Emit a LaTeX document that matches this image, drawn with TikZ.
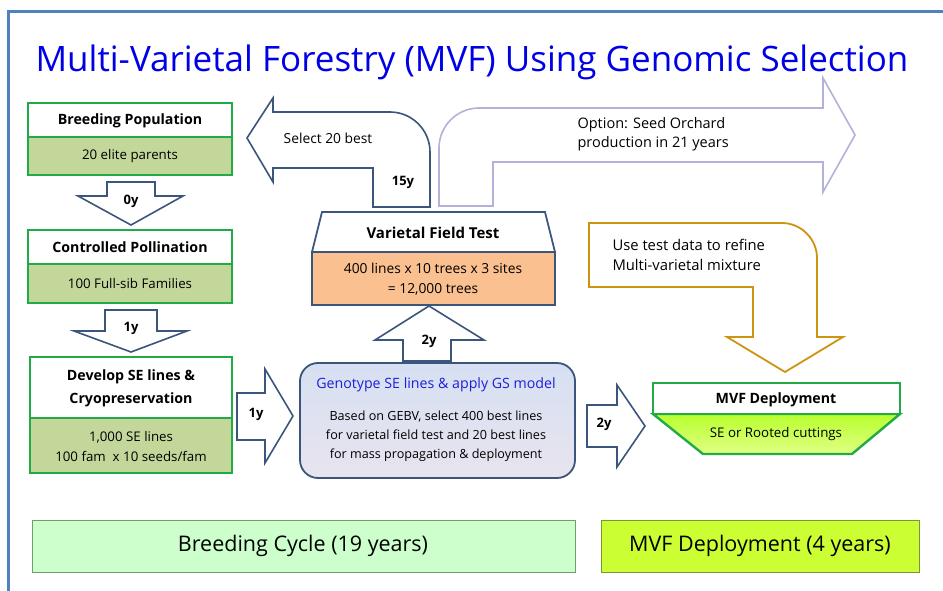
\documentclass[tikz,border=0pt]{standalone}
\usepackage{fontspec}
\setmainfont{Open Sans}
\usetikzlibrary{positioning}
\definecolor{frameblue}{RGB}{79,129,189}
\definecolor{titleblue}{RGB}{0,0,230}
\definecolor{boxgreen}{RGB}{34,170,70}
\definecolor{olivefill}{RGB}{196,215,155}
\definecolor{slate}{RGB}{60,85,125}
\definecolor{fieldorange}{RGB}{250,192,144}
\definecolor{optionline}{RGB}{178,178,218}
\definecolor{goldline}{RGB}{205,148,15}
\definecolor{limefill}{RGB}{204,255,51}
\definecolor{mintfill}{RGB}{204,255,204}
\definecolor{genotop}{RGB}{214,224,242}
\definecolor{genobot}{RGB}{232,228,238}
\definecolor{gsblue}{RGB}{30,30,220}
\begin{document}
\begin{tikzpicture}[x=1pt,y=-1pt,
  hdr/.style={font=\fontsize{14.2}{23}\selectfont\bfseries, align=center},
  txt/.style={font=\fontsize{13.3}{20}\selectfont, align=center},
  yr/.style={font=\fontsize{13}{14}\selectfont\bfseries},
  blockarrow/.style={draw=slate, line width=1.6pt, fill=white, line join=miter},
  greenbox/.style={draw=boxgreen, line width=2pt}]
\useasboundingbox[fill=white] (0,0) rectangle (943,591);
\draw[frameblue, line width=3pt] (8,591) -- (8,12) -- (943,12);
\node[font=\fontsize{35}{40}\selectfont, text=titleblue] (title) at (472,62) {Multi-Varietal Forestry (MVF) Using Genomic Selection};

% breeding population
\draw[greenbox, fill=olivefill] (28,137) rectangle (232,175);
\draw[greenbox, fill=white] (28,103) rectangle (232,137);
\node[hdr] (bp) at (130,121) {Breeding Population};
\node[txt] (bpbody) at (130,156) {20 elite parents};
\draw[blockarrow] (107,182) -- (155,182) -- (155,196) -- (183,196) -- (131,225) -- (78,196) -- (107,196) -- cycle;
\node[yr] (y0) at (131,201) {0y};

% controlled pollination
\draw[greenbox, fill=olivefill] (28,264) rectangle (232,303);
\draw[greenbox, fill=white] (28,230) rectangle (232,264);
\node[hdr] (cp) at (130,247) {Controlled Pollination};
\node[txt] (cpbody) at (130,284) {100 Full-sib Families};
\draw[blockarrow] (105,310) -- (157,310) -- (157,331) -- (187,331) -- (131,352) -- (74,331) -- (105,331) -- cycle;
\node[yr] (y1) at (131,328) {1y};

% SE lines
\draw[greenbox, fill=olivefill] (30,418) rectangle (232,473);
\draw[greenbox, fill=white] (30,357) rectangle (232,418);
\node[hdr] (se) at (131,388) {Develop SE lines \&\\Cryopreservation};
\node[txt] (sebody) at (131,447) {1,000 SE lines\\100 fam \ x 10 seeds/fam};
\draw[blockarrow] (237,393) -- (265,393) -- (265,369) -- (293,416) -- (265,463) -- (265,440) -- (237,440) -- cycle;
\node[yr] (y1b) at (256,414) {1y};

% genotyping
\draw[draw=slate, line width=1.8pt, rounded corners=18pt, top color=genotop, bottom color=genobot] (300,363) rectangle (575,478);
\node[font=\fontsize{14.2}{16}\selectfont, text=gsblue] (gs) at (436,385) {Genotype SE lines \& apply GS model};
\node[txt, font=\fontsize{12.6}{19}\selectfont] (gsbody) at (436,436) {Based on GEBV, select 400 best lines\\for varietal field test and 20 best lines\\for mass propagation \& deployment};
\draw[blockarrow] (587,405) -- (617,405) -- (617,385) -- (645,426) -- (617,467) -- (617,447) -- (587,447) -- cycle;
\node[yr] (y2b) at (604,424) {2y};
\draw[blockarrow] (403,361) -- (451,361) -- (451,340) -- (484,340) -- (429,306) -- (375,340) -- (403,340) -- cycle;
\node[yr] (y2) at (429,341) {2y};

% field test
\draw[draw=slate, line width=1.8pt, fill=fieldorange] (312,252) rectangle (555,305);
\draw[draw=slate, line width=1.8pt, fill=white] (322,212) -- (545,212) -- (555,252) -- (312,252) -- cycle;
\node[hdr, font=\fontsize{15}{18}\selectfont\bfseries] (vft) at (433,233) {Varietal Field Test};
\node[txt, font=\fontsize{13.8}{20}\selectfont] (vftbody) at (433,279) {400 lines x 10 trees x 3 sites\\= 12,000 trees};

% back to breeding
\draw[blockarrow] (373,207) -- (430,207) -- (430,152) .. controls (430,130) and (412,112) .. (390,112) -- (273,112) -- (273,98) -- (247,138) -- (273,182) -- (273,168) -- (373,168) -- cycle;
\node[txt, font=\fontsize{13.8}{16}\selectfont] (sel) at (328,138) {Select 20 best};
\node[yr] (y15) at (403,182) {15y};

% seed orchard option
\draw[draw=optionline, line width=1.6pt, fill=white] (493,206) -- (439,206) -- (439,148) .. controls (439,126) and (457,108) .. (479,108) -- (823,108) -- (823,78) -- (855,135) -- (823,192) -- (823,162) -- (493,162) -- cycle;
\node[txt, font=\fontsize{14.5}{19}\selectfont, align=left, anchor=west] (opt) at (574,134) {Option: Seed Orchard\\production in 21 years};

% refine mixture
\draw[draw=goldline, line width=1.8pt, fill=white] (589,223) -- (782,223) .. controls (801,223) and (817,239) .. (817,258) -- (817,337) -- (843,337) -- (785,372) -- (727,337) -- (753,337) -- (753,287) -- (589,287) -- cycle;
\node[txt, font=\fontsize{14.8}{20}\selectfont, align=left, anchor=west] (refine) at (609,255) {Use test data to refine\\Multi-varietal mixture};

% deployment
\draw[greenbox, line width=2.4pt, top color=limefill!90!green, bottom color=limefill!60!white] (653,414) -- (900,414) -- (852,454) -- (703,454) -- cycle;
\draw[greenbox, line width=2.4pt, fill=white] (653,383) rectangle (900,414);
\node[hdr] (mvf) at (776,400) {MVF Deployment};
\node[txt] (mvfbody) at (776,434) {SE or Rooted cuttings};

% summary bars
\draw[draw={rgb,255:red,110;green,160;blue,110}, fill=mintfill] (32,520) rectangle (575,572);
\node[font=\fontsize{21.5}{24}\selectfont] (cycle) at (303,546) {Breeding Cycle (19 years)};
\draw[draw={rgb,255:red,120;green,150;blue,50}, fill=limefill] (601,520) rectangle (919,572);
\node[font=\fontsize{21.5}{24}\selectfont] (deploy) at (760,546) {MVF Deployment (4 years)};
\end{tikzpicture}
\end{document}
